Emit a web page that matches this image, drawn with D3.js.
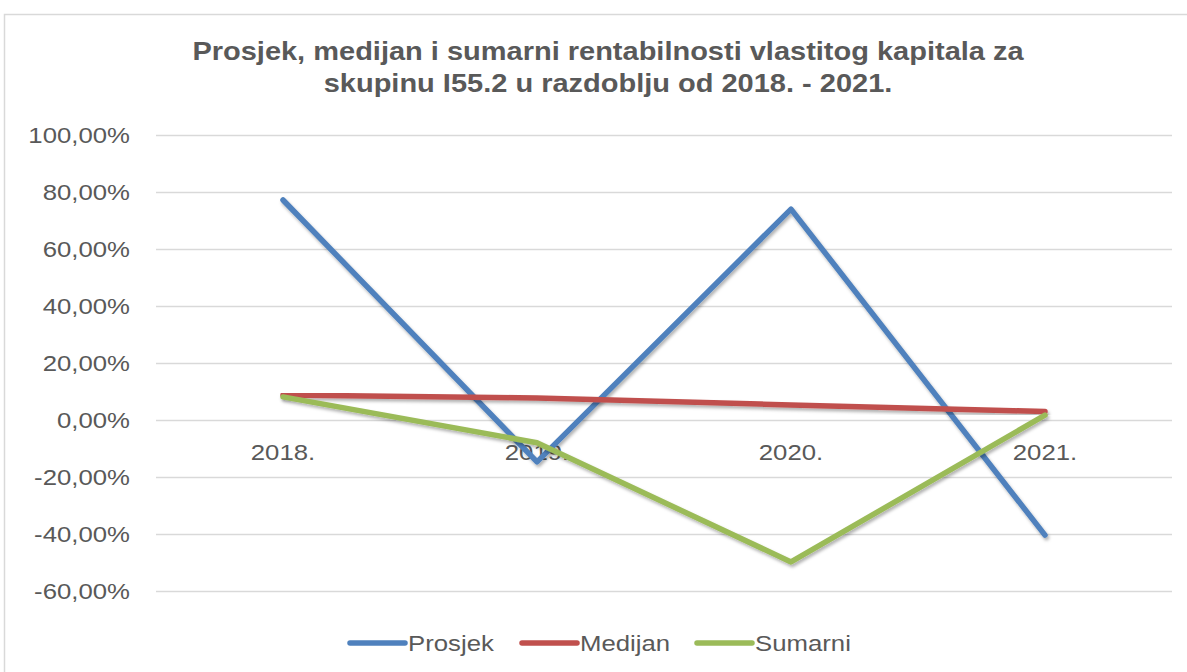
<!DOCTYPE html>
<meta charset="utf-8">
<script src="https://d3js.org/d3.v7.min.js"></script>
<style>
  body { margin: 0; background: #fff; }
  text { font-family: "Liberation Sans", Arial, sans-serif; fill: #595959; }
</style>
<body>
<svg id="chart" width="1187" height="672"></svg>
<script>
  // data
  const years = ["2018.", "2019.", "2020.", "2021."];
  const prosjek = [77.2, -14.7, 74.0, -40.4];
  const medijan = [8.8, 7.7, 5.3, 3.0];
  const sumarni = [8.1, -8.0, -49.8, 1.7];
  const seriesNames = ["Prosjek", "Medijan", "Sumarni"];
  const seriesColors = ["#4f81bd", "#c0504d", "#9bbb59"];
  const yTicks = [100, 80, 60, 40, 20, 0, -20, -40, -60];

  const series = [prosjek, medijan, sumarni];
  const svg = d3.select("#chart");
  const sx = 1.12; // text in the picture is a bit wide

  // outer frame
  svg.append("rect")
    .attr("x", 4.5).attr("y", 14.5)
    .attr("width", 1200).attr("height", 700)
    .attr("fill", "none").attr("stroke", "#d9d9d9").attr("stroke-width", 1.5);

  // soft shadow like the office chart
  const defs = svg.append("defs");
  const f = defs.append("filter").attr("id", "shadow")
    .attr("x", "-10%").attr("y", "-10%").attr("width", "120%").attr("height", "130%");
  f.append("feDropShadow").attr("dx", 1.5).attr("dy", 2.5).attr("stdDeviation", 1.5)
    .attr("flood-color", "#000").attr("flood-opacity", 0.3);

  const x = d3.scalePoint().domain(years).range([283, 1045]);
  const y = d3.scaleLinear().domain([-60, 100]).range([591, 135]);

  // grid
  svg.append("g").selectAll("line").data(yTicks).join("line")
    .attr("x1", 156).attr("x2", 1172)
    .attr("y1", d => Math.round(y(d)) + 0.5).attr("y2", d => Math.round(y(d)) + 0.5)
    .attr("stroke", "#d9d9d9").attr("stroke-width", 1.3);

  // y tick labels
  const fmt = d => d3.format(".2f")(d).replace(".", ",").replace("\u2212", "-") + "%";
  svg.append("g").selectAll("text").data(yTicks).join("text")
    .attr("transform", d => `translate(130,${y(d)}) scale(${sx},1)`)
    .attr("dy", "0.35em")
    .attr("text-anchor", "end")
    .style("font-size", "23px")
    .text(fmt);

  // category labels sit under the zero line
  svg.append("g").selectAll("text").data(years).join("text")
    .attr("transform", d => `translate(${x(d)},460) scale(${sx},1)`)
    .attr("text-anchor", "middle")
    .style("font-size", "23px")
    .text(d => d);

  // lines
  const line = d3.line().x((d, i) => x(years[i])).y(d => y(d));
  svg.append("g").selectAll("path").data(series).join("path")
    .attr("d", line)
    .attr("fill", "none")
    .attr("stroke", (d, i) => seriesColors[i])
    .attr("stroke-width", 5.5)
    .attr("stroke-linecap", "round")
    .attr("stroke-linejoin", "round")
    .attr("filter", "url(#shadow)");

  // title
  const titleLines = ["Prosjek, medijan i sumarni rentabilnosti vlastitog kapitala za",
                      "skupinu I55.2 u razdoblju od 2018. - 2021."];
  svg.append("g").selectAll("text").data(titleLines).join("text")
    .attr("transform", (d, i) => `translate(608,${60 + i * 32}) scale(1.16,1)`)
    .attr("text-anchor", "middle")
    .style("font-size", "25px").style("font-weight", "bold")
    .text(d => d);

  // legend
  const legendX = [350, 522, 697];
  const lg = svg.append("g").selectAll("g").data(seriesNames).join("g")
    .attr("transform", (d, i) => `translate(${legendX[i]},643)`);
  lg.append("line")
    .attr("x1", 0).attr("x2", 55).attr("y1", 0).attr("y2", 0)
    .attr("stroke", (d, i) => seriesColors[i])
    .attr("stroke-width", 5.5).attr("stroke-linecap", "round");
  lg.append("text")
    .attr("transform", `translate(58,0) scale(${sx},1)`)
    .attr("dy", "0.35em")
    .style("font-size", "23px")
    .text(d => d);
</script>
</body>
